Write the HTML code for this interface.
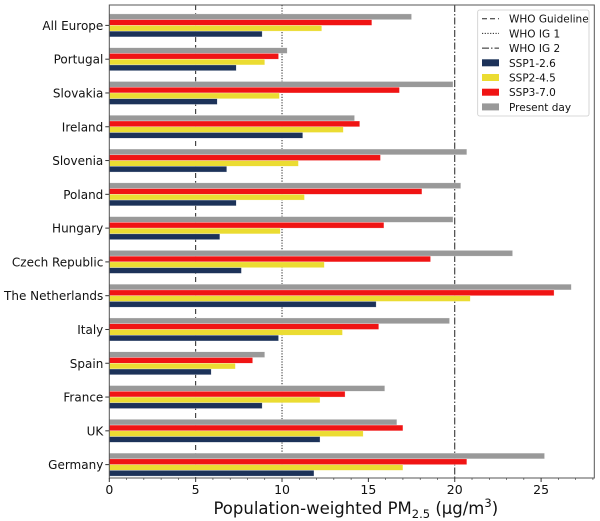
<!DOCTYPE html>
<html><head><meta charset="utf-8">
<style>
body{margin:0;background:#fff;}
svg{display:block;font-family:"DejaVu Sans","Liberation Sans",sans-serif;}
</style></head>
<body>
<svg id="chart" width="600" height="521" viewBox="0 0 600 521" xmlns="http://www.w3.org/2000/svg"></svg>
<script>
const categories = ["All Europe","Portugal","Slovakia","Ireland","Slovenia","Poland","Hungary","Czech Republic","The Netherlands","Italy","Spain","France","UK","Germany"];
const presentDay = [17.5,10.3,19.9,14.2,20.7,20.35,19.9,23.35,26.75,19.7,9.0,15.95,16.65,25.2];
const ssp370 = [15.2,9.8,16.8,14.5,15.7,18.1,15.9,18.6,25.75,15.6,8.3,13.65,17.0,20.7];
const ssp245 = [12.3,9.0,9.85,13.55,10.95,11.3,9.9,12.45,20.9,13.5,7.3,12.2,14.7,17.0];
const ssp126 = [8.85,7.35,6.25,11.2,6.8,7.35,6.4,7.65,15.45,9.8,5.9,8.85,12.2,11.85];
const xTicks = [0,5,10,15,20,25];
const whoLines = [5,10,20];

const NS="http://www.w3.org/2000/svg";
const svg=document.getElementById('chart');
const L=109.3,R=594.3,T=5,B=478,XMAX=28.08;
const x=v=>L+v*(R-L)/XMAX;
const pitch=(B-T)/categories.length, bh=5.75;
const gTop=i=>T+8.9+i*pitch;
function mk(tag,attrs,parent){const e=document.createElementNS(NS,tag);for(const k in attrs)e.setAttribute(k,attrs[k]);(parent||svg).appendChild(e);return e;}

const dashes=["5,3","1.2,1.5","7,2,1.5,2"];
whoLines.forEach((v,i)=>{
  const l=mk('line',{x1:x(v),x2:x(v),y1:T,y2:B,stroke:'#222','stroke-width':1,'stroke-dasharray':dashes[i]});
  
  
});

const series=[[presentDay,'#999999','present-day'],[ssp370,'#f01414','ssp3-7.0'],[ssp245,'#ebdc32','ssp2-4.5'],[ssp126,'#1c3259','ssp1-2.6']];
categories.forEach((c,i)=>{
  series.forEach((s,j)=>{
    const r=mk('rect',{x:x(0),y:gTop(i)+j*bh,width:x(s[0][i])-x(0),height:bh,fill:s[1],stroke:'rgba(255,255,255,0.6)','stroke-width':0.5});
    
    
  });
  const cy=gTop(i)+2*bh;
  mk('line',{x1:L-4,x2:L,y1:cy,y2:cy,stroke:'#333'});
  const t=mk('text',{x:L-6,y:cy+4.5,'text-anchor':'end','font-size':12,fill:'#111'});
  t.textContent=c;
  
  
});

const box=mk('rect',{x:L,y:T,width:R-L,height:B-T,fill:'none',stroke:'#555','stroke-width':1});


for(let v=1;v<=28;v++){if(v%5)mk('line',{x1:x(v),x2:x(v),y1:B,y2:B+2,stroke:'#333','stroke-width':0.6});}
xTicks.forEach(v=>{
  mk('line',{x1:x(v),x2:x(v),y1:B,y2:B+4,stroke:'#333'});
  const t=mk('text',{x:x(v),y:B+16,'text-anchor':'middle','font-size':12.5,fill:'#111'});
  t.textContent=v;
  
  
});
const xl=mk('text',{x:(L+R)/2+4,y:514,'text-anchor':'middle','font-size':16.5,fill:'#111'});
xl.innerHTML='Population-weighted PM<tspan font-size="11.5" dy="4">2.5</tspan><tspan dy="-4"> (µg/m</tspan><tspan font-size="11.5" dy="-7">3</tspan><tspan dy="7">)</tspan>';



const lg=mk('g',{});


mk('rect',{x:477.7,y:10,width:111.3,height:106,fill:'#fff',stroke:'#ccc','stroke-width':0.8,rx:2},lg);
const items=[['WHO Guideline','line',dashes[0]],['WHO IG 1','line',dashes[1]],['WHO IG 2','line',dashes[2]],['SSP1-2.6','rect','#1c3259'],['SSP2-4.5','rect','#ebdc32'],['SSP3-7.0','rect','#f01414'],['Present day','rect','#999999']];
items.forEach((it,k)=>{
  const y=18.7+k*14.7;
  if(it[1]==='line') mk('line',{x1:482,x2:499,y1:y,y2:y,stroke:'#222','stroke-dasharray':it[2]},lg);
  else mk('rect',{x:482,y:y-3.5,width:17,height:7,fill:it[2]},lg);
  const t=mk('text',{x:509,y:y+4,'font-size':10.5,fill:'#111'},lg);
  t.textContent=it[0];
  
  
});
</script>
</body></html>
